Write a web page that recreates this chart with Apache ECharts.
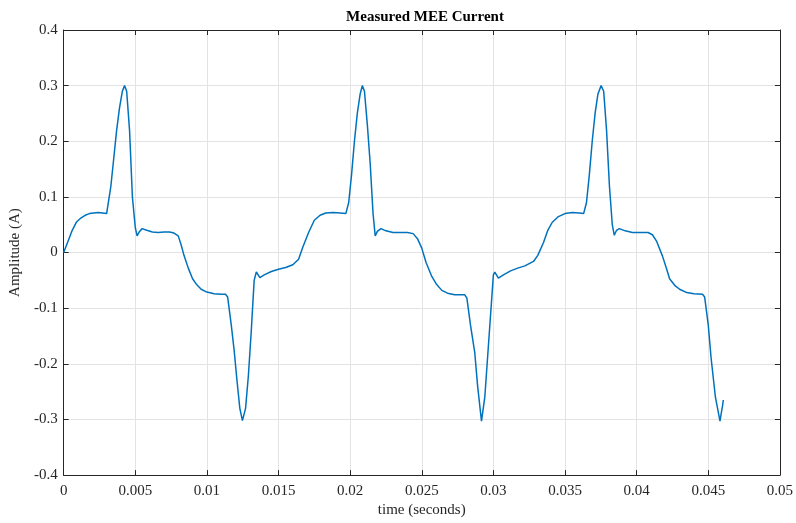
<!DOCTYPE html>
<html>
<head>
<meta charset="utf-8">
<script src="https://cdn.jsdelivr.net/npm/echarts@6/dist/echarts.min.js"></script>
<style>html,body{margin:0;padding:0;background:#fff;}#c{width:796px;height:523px;}</style>
</head>
<body>
<div id="c"></div>
<script>
var titleText = 'Measured MEE Current';
var xName = 'time (seconds)';
var yName = 'Amplitude (A)';
var xTicks = [0, 0.005, 0.01, 0.015, 0.02, 0.025, 0.03, 0.035, 0.04, 0.045, 0.05];
var yTicks = [-0.4, -0.3, -0.2, -0.1, 0, 0.1, 0.2, 0.3, 0.4];

var period1 = [
  [0, 0.0], [0.0003, 0.02], [0.0006, 0.04], [0.0009, 0.055], [0.0012, 0.062], [0.0015, 0.067],
  [0.0018, 0.070], [0.0021, 0.071], [0.0024, 0.072], [0.0027, 0.071], [0.0030, 0.070],
  [0.0031, 0.072], [0.0033, 0.12], [0.0035, 0.17], [0.0037, 0.22], [0.0039, 0.26], [0.0041, 0.29],
  [0.00425, 0.30], [0.0044, 0.29], [0.0046, 0.22], [0.0048, 0.10], [0.0050, 0.045], [0.00513, 0.03],
  [0.0053, 0.038], [0.00548, 0.043], [0.0058, 0.040], [0.0062, 0.037], [0.0066, 0.036], [0.0070, 0.037],
  [0.0074, 0.037], [0.0077, 0.035], [0.0080, 0.030], [0.0082, 0.014], [0.0084, -0.005], [0.0087, -0.028],
  [0.0090, -0.047], [0.0093, -0.058], [0.0096, -0.066], [0.0100, -0.071], [0.0105, -0.074],
  [0.0110, -0.075], [0.0113, -0.075], [0.01145, -0.080], [0.0117, -0.13], [0.0119, -0.175],
  [0.0121, -0.23], [0.0123, -0.28], [0.01248, -0.302], [0.0127, -0.28], [0.0129, -0.22],
  [0.0131, -0.14], [0.0133, -0.05], [0.01345, -0.035], [0.0137, -0.045], [0.0140, -0.040],
  [0.0145, -0.034], [0.0150, -0.030], [0.0155, -0.027], [0.0160, -0.022], [0.0164, -0.012],
  [0.0167, 0.010], [0.0171, 0.036], [0.0175, 0.058], [0.0179, 0.067], [0.0183, 0.071],
  [0.0188, 0.072], [0.0193, 0.071], [0.0197, 0.070]
];
var period2 = [
  [0.0199, 0.09], [0.0201, 0.14], [0.0203, 0.20], [0.0205, 0.25], [0.0207, 0.285], [0.02085, 0.300],
  [0.0210, 0.29], [0.0212, 0.23], [0.0214, 0.16], [0.0216, 0.07], [0.02175, 0.03], [0.0219, 0.038],
  [0.02215, 0.043], [0.0225, 0.039], [0.0230, 0.036], [0.0235, 0.036], [0.0240, 0.036], [0.0244, 0.034],
  [0.0247, 0.025], [0.0250, 0.008], [0.0253, -0.018], [0.0257, -0.043], [0.0260, -0.056],
  [0.0264, -0.068], [0.0268, -0.073], [0.0273, -0.076], [0.0280, -0.076], [0.02815, -0.082],
  [0.0284, -0.13], [0.0287, -0.18], [0.0289, -0.24], [0.02917, -0.303], [0.0294, -0.26],
  [0.0297, -0.15], [0.0300, -0.04], [0.0301, -0.035], [0.03035, -0.046], [0.0307, -0.040],
  [0.0312, -0.033], [0.0317, -0.028], [0.0322, -0.024], [0.0328, -0.016], [0.0331, -0.005],
  [0.0335, 0.018], [0.0338, 0.040], [0.0341, 0.054], [0.0345, 0.064], [0.0350, 0.070],
  [0.0355, 0.072], [0.0360, 0.071], [0.0363, 0.070]
];
var period3 = [
  [0.0365, 0.09], [0.0367, 0.14], [0.0369, 0.20], [0.0371, 0.25], [0.0373, 0.285], [0.03752, 0.300],
  [0.0377, 0.29], [0.0379, 0.22], [0.0381, 0.12], [0.0383, 0.05], [0.03844, 0.031], [0.0386, 0.040],
  [0.03879, 0.043], [0.0392, 0.039], [0.0397, 0.036], [0.0403, 0.036], [0.0408, 0.036], [0.0411, 0.032],
  [0.0414, 0.020], [0.0418, -0.006], [0.0421, -0.030], [0.0423, -0.047], [0.0427, -0.060],
  [0.0430, -0.066], [0.0435, -0.072], [0.0440, -0.074], [0.0446, -0.075], [0.04475, -0.080],
  [0.0450, -0.13], [0.0452, -0.19], [0.0455, -0.26], [0.04582, -0.303], [0.0459, -0.29],
  [0.0460, -0.275], [0.04605, -0.265]
];

var seriesData = period1.concat(period2, period3);

var font = 'Liberation Serif, Times New Roman, serif';
var chart = echarts.init(document.getElementById('c'), null, {renderer: 'canvas'});
function fmt(v) { return String(parseFloat(Number(v).toFixed(4))); }
var grid = {left: 60, right: 15, top: 30, bottom: 46, containLabel: false};
var boxLine = {show: true, onZero: false, lineStyle: {color: '#262626', width: 1}};
var boxTick = {show: true, inside: true, length: 5, lineStyle: {color: '#262626'}};
chart.setOption({
  animation: false,
  backgroundColor: '#fff',
  title: {
    text: titleText, left: 420, top: 5, textAlign: 'center',
    textStyle: {fontFamily: font, fontSize: 15, fontWeight: 'bold', color: '#000'}
  },
  grid: grid,
  xAxis: [{
    type: 'value', min: xTicks[0], max: xTicks[xTicks.length - 1], interval: xTicks[1] - xTicks[0],
    name: xName, nameLocation: 'middle', nameGap: 25,
    nameTextStyle: {fontFamily: font, fontSize: 15, color: '#262626'},
    axisLine: boxLine, axisTick: boxTick,
    axisLabel: {fontFamily: font, fontSize: 15, color: '#262626', margin: 8, formatter: fmt},
    splitLine: {show: true, lineStyle: {color: '#e3e3e3', width: 1}}
  }, {
    type: 'value', position: 'top', min: xTicks[0], max: xTicks[xTicks.length - 1], interval: xTicks[1] - xTicks[0],
    axisLine: boxLine, axisTick: boxTick,
    axisLabel: {show: false}, splitLine: {show: false}
  }],
  yAxis: [{
    type: 'value', min: yTicks[0], max: yTicks[yTicks.length - 1], interval: 0.1,
    name: yName, nameLocation: 'middle', nameGap: 35, nameRotate: 90,
    nameTextStyle: {fontFamily: font, fontSize: 15, color: '#262626'},
    axisLine: boxLine, axisTick: boxTick,
    axisLabel: {fontFamily: font, fontSize: 15, color: '#262626', margin: 6, formatter: fmt},
    splitLine: {show: true, lineStyle: {color: '#e3e3e3', width: 1}}
  }, {
    type: 'value', position: 'right', min: yTicks[0], max: yTicks[yTicks.length - 1], interval: 0.1,
    axisLine: boxLine, axisTick: boxTick,
    axisLabel: {show: false}, splitLine: {show: false}
  }],
  series: [{
    type: 'line', data: seriesData, xAxisIndex: 0, yAxisIndex: 0,
    showSymbol: false, smooth: false,
    lineStyle: {color: '#0072BD', width: 1.5}
  }]
});
</script>
</body>
</html>
